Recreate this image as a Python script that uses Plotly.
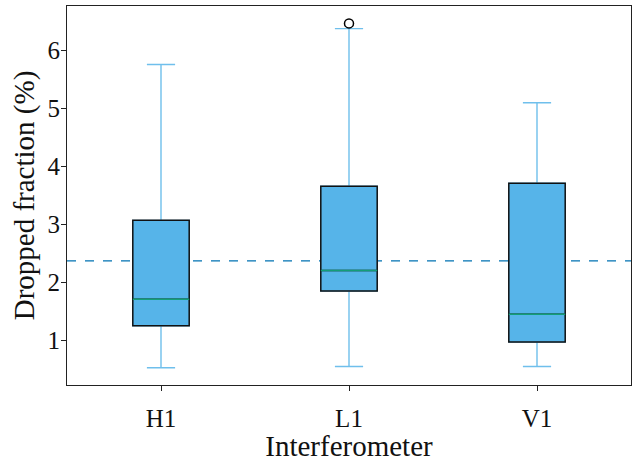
import plotly.graph_objects as go

categories = ["H1", "L1", "V1"]
q1 = [1.25, 1.85, 0.97]
median = [1.71, 2.205, 1.45]
q3 = [3.07, 3.66, 3.71]
lower_whisker = [0.525, 0.547, 0.547]
upper_whisker = [5.76, 6.38, 5.10]
outlier_cat = ["L1"]
outlier_val = [6.47]
mean_line = 2.37
y_ticks = [1, 2, 3, 4, 5, 6]

BOX_W = 0.3
FILL = "#56B4E9"
WHISK = "#6fbfec"
MED = "#139E78"
DASH = "#0072B2"
FONT = "Liberation Serif"

xpos = list(range(len(categories)))
fig = go.Figure()

# whiskers + caps (light blue)
fig.add_trace(go.Box(
    x=xpos, q1=q1, median=median, q3=q3,
    lowerfence=lower_whisker, upperfence=upper_whisker,
    width=BOX_W, whiskerwidth=0.5, fillcolor=FILL,
    line=dict(color=WHISK, width=1.4), boxpoints=False,
    showlegend=False, hoverinfo="skip"))

# box outline (black)
fig.add_trace(go.Box(
    x=xpos, q1=q1, median=median, q3=q3,
    lowerfence=q1, upperfence=q3,
    width=BOX_W, whiskerwidth=0, fillcolor=FILL,
    line=dict(color="#111111", width=1.5), boxpoints=False,
    showlegend=False, hoverinfo="skip"))

# medians (green)
for i, m in enumerate(median):
    fig.add_trace(go.Scatter(
        x=[xpos[i] - BOX_W / 2, xpos[i] + BOX_W / 2], y=[m, m],
        mode="lines", line=dict(color=MED, width=1.5),
        showlegend=False, hoverinfo="skip"))

# outliers
fig.add_trace(go.Scatter(
    x=[categories.index(c) for c in outlier_cat], y=outlier_val,
    mode="markers",
    marker=dict(symbol="circle-open", size=9, color="black", line=dict(width=1.5)),
    showlegend=False, cliponaxis=False))

fig.add_hline(y=mean_line, line=dict(color=DASH, width=1.2, dash="dash"), layer="below")

fig.update_layout(
    width=636, height=462,
    margin=dict(l=67, r=4, t=6, b=75),
    plot_bgcolor="white", paper_bgcolor="white",
    boxmode="overlay",
    font=dict(family=FONT, size=24, color="#111111"),
)
fig.update_xaxes(
    range=[-0.5, 2.5], tickvals=xpos, ticktext=categories,
    showgrid=False, zeroline=False,
    showline=True, linecolor="#222222", linewidth=1.2, mirror=True,
    ticks="outside", ticklen=5, tickcolor="#222222", ticklabelstandoff=6,
    tickfont=dict(size=25),
    title=dict(text="Interferometer", standoff=6),
)
fig.update_yaxes(
    range=[0.228, 6.77], tickvals=y_ticks,
    showgrid=False, zeroline=False,
    showline=True, linecolor="#222222", linewidth=1.2, mirror=True,
    ticks="outside", ticklen=5, tickcolor="#222222", ticklabelstandoff=-4,
    tickfont=dict(size=25),
    title=dict(text="Dropped fraction (%)", standoff=4),
)

fig.write_html("out.html", config={"displayModeBar": False},
               post_script="document.body.style.margin='0';")
